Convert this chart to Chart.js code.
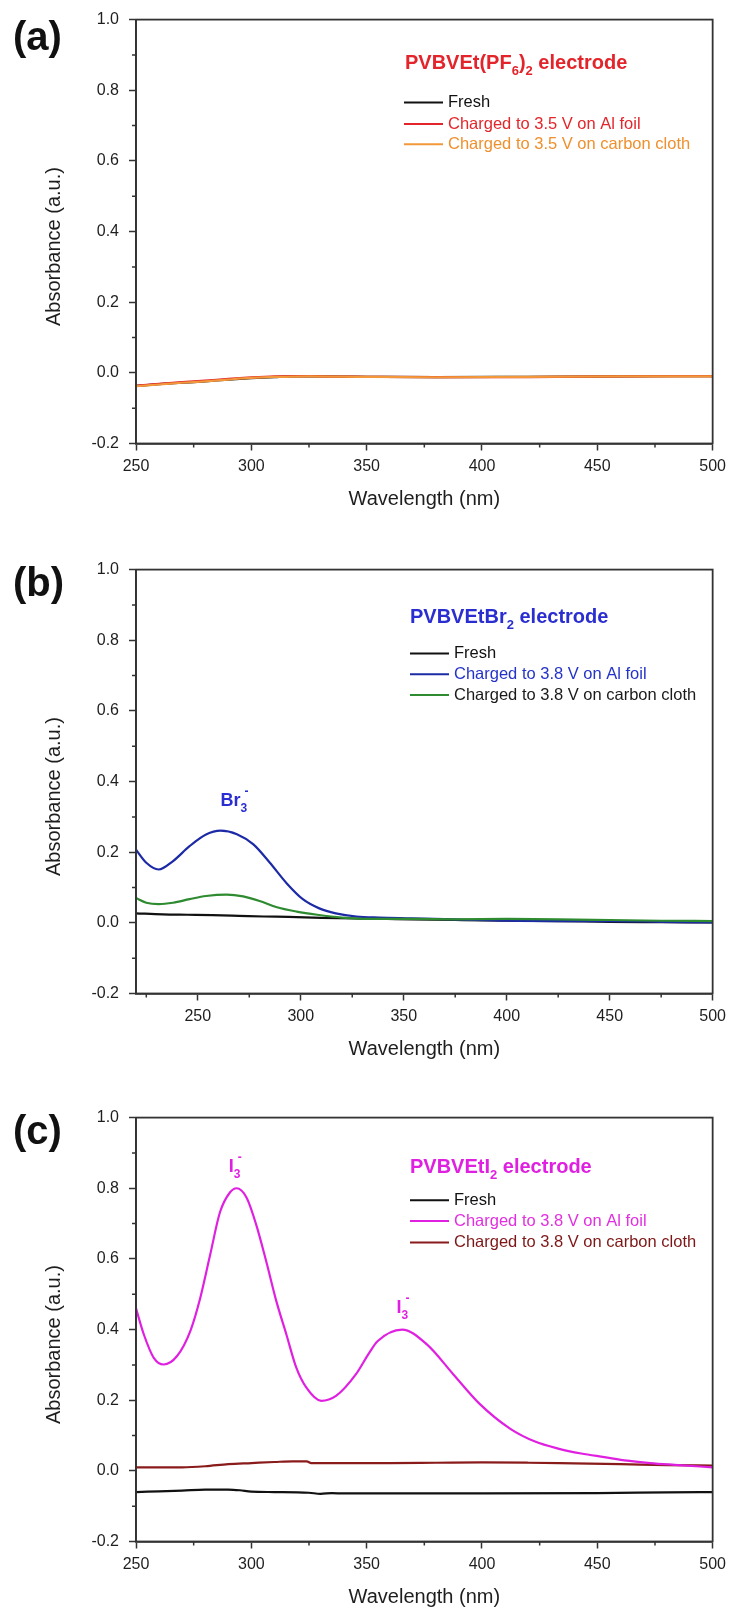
<!DOCTYPE html>
<html>
<head>
<meta charset="utf-8">
<script src="https://cdn.jsdelivr.net/npm/chart.js@4.4.1/dist/chart.umd.min.js"></script>
<style>
  html, body { margin: 0; padding: 0; background: #fff; }
  #wrap { position: relative; width: 732px; height: 1611px; background: #fff; }
  canvas { position: absolute; left: 0; }
</style>
</head>
<body>
<div id="wrap">
  <canvas id="panelA" width="732" height="513" style="top:0px"></canvas>
  <canvas id="panelB" width="732" height="513" style="top:550px"></canvas>
  <canvas id="panelC" width="732" height="513" style="top:1098px"></canvas>
</div>
<script>
// ---- axis ticks ----
const xTicks = [250, 300, 350, 400, 450, 500];
const xMinorAC = [275, 325, 375, 425, 475];
const xMinorB = [225, 275, 325, 375, 425, 475];
const yTicks = [-0.2, 0.0, 0.2, 0.4, 0.6, 0.8, 1.0];
const yMinor = [-0.1, 0.1, 0.3, 0.5, 0.7, 0.9];

// ---- series names ----
const namesA = ['Fresh', 'Charged to 3.5 V on Al foil', 'Charged to 3.5 V on carbon cloth'];
const namesBC = ['Fresh', 'Charged to 3.8 V on Al foil', 'Charged to 3.8 V on carbon cloth'];

// ---- (a) PVBVEt(PF6)2 electrode ----
const aFreshX = [250, 260, 270, 280, 290, 300, 310, 320, 330, 350, 380, 420, 460, 500];
const aFreshY = [-0.037, -0.032, -0.028, -0.024, -0.019, -0.015, -0.012, -0.010, -0.010, -0.011, -0.012, -0.011, -0.010, -0.009];
const aAlX = [250, 260, 270, 280, 290, 300, 310, 320, 325, 330, 350, 380, 420, 460, 500];
const aAlY = [-0.037, -0.031, -0.026, -0.022, -0.017, -0.013, -0.010, -0.009, -0.009, -0.010, -0.011, -0.012, -0.012, -0.010, -0.009];
const aClothX = [250, 260, 270, 280, 290, 300, 310, 325, 350, 380, 420, 460, 500];
const aClothY = [-0.038, -0.033, -0.028, -0.024, -0.019, -0.0145, -0.0116, -0.0097, -0.0116, -0.0125, -0.0116, -0.0097, -0.0097];

// ---- (b) PVBVEtBr2 electrode ----
const bFreshX = [220, 233, 245, 257, 270, 282, 294, 306, 318, 330, 342, 354, 375, 400, 425, 450, 475, 500];
const bFreshY = [0.027, 0.024, 0.023, 0.022, 0.020, 0.018, 0.017, 0.015, 0.013, 0.012, 0.011, 0.010, 0.008, 0.006, 0.005, 0.003, 0.002, 0.001];
const bAlX = [220, 225, 231, 238, 246, 254, 261, 269, 277, 285, 293, 301, 309, 317, 327, 338, 354, 375, 400, 425, 450, 475, 500];
const bAlY = [0.207, 0.170, 0.151, 0.175, 0.217, 0.250, 0.261, 0.251, 0.222, 0.170, 0.113, 0.067, 0.041, 0.027, 0.018, 0.015, 0.013, 0.010, 0.006, 0.005, 0.005, 0.003, 0.001];
const bClothX = [220, 225, 231, 238, 246, 254, 264, 272, 280, 288, 298, 308, 320, 333, 354, 375, 400, 425, 450, 475, 500];
const bClothY = [0.070, 0.057, 0.053, 0.057, 0.067, 0.076, 0.080, 0.075, 0.062, 0.045, 0.032, 0.023, 0.015, 0.011, 0.011, 0.010, 0.011, 0.010, 0.008, 0.006, 0.005];

// ---- (c) PVBVEtI2 electrode ----
const cFreshX = [250, 260, 270, 280, 290, 295, 300, 310, 325, 330, 335, 340, 350, 400, 450, 480, 500];
const cFreshY = [-0.060, -0.058, -0.056, -0.053, -0.053, -0.055, -0.059, -0.060, -0.062, -0.065, -0.063, -0.064, -0.064, -0.064, -0.063, -0.061, -0.060];
const cAlX = [250, 253.4, 257.7, 262, 267.8, 273.5, 277.8, 282.1, 286.4, 290.7, 293.6, 297.9, 302.2, 306.5, 310.9, 315.2, 319.5, 323.8, 330.3, 336.7, 345.3, 351.1, 354.7, 365.4, 376.1, 387.6, 399.1, 412.3, 423, 433, 443, 453, 463, 473, 483.5, 500];
const cAlY = [0.460, 0.386, 0.320, 0.301, 0.325, 0.395, 0.488, 0.610, 0.732, 0.788, 0.800, 0.774, 0.695, 0.592, 0.479, 0.386, 0.292, 0.236, 0.198, 0.212, 0.273, 0.334, 0.367, 0.400, 0.358, 0.273, 0.189, 0.119, 0.083, 0.063, 0.049, 0.039, 0.029, 0.022, 0.017, 0.010];
const cClothX = [250, 260, 270, 280, 290, 300, 310, 318, 324, 326, 340, 360, 380, 400, 420, 440, 460, 480, 500];
const cClothY = [0.010, 0.010, 0.010, 0.013, 0.019, 0.022, 0.025, 0.027, 0.027, 0.022, 0.022, 0.022, 0.023, 0.024, 0.023, 0.021, 0.019, 0.016, 0.015];

const FONT = "'Liberation Sans', Arial, Helvetica, sans-serif";
const INK = '#1e1e1e';
const AXIS = '#333333';
Chart.defaults.font.family = FONT;

const pts = (xs, ys) => xs.map((x, i) => ({ x: x, y: ys[i] }));

function series(label, xs, ys, color, order) {
  return {
    label: label,
    data: pts(xs, ys),
    borderColor: color,
    backgroundColor: color,
    borderWidth: 2.2,
    pointRadius: 0,
    fill: false,
    cubicInterpolationMode: 'monotone',
    order: order
  };
}

// Draws a run of [text, kind] pieces; kind '' = normal, 'sub' = subscript, 'sup' = superscript over the last subscript
function richText(ctx, x, y, parts, size, color) {
  ctx.save();
  ctx.fillStyle = color;
  ctx.textAlign = 'left';
  ctx.textBaseline = 'alphabetic';
  let cx = x, subX = x, subW = 0;
  for (const [t, kind] of parts) {
    if (kind === 'sub') {
      ctx.font = `bold ${Math.round(size * 0.66)}px ${FONT}`;
      ctx.fillText(t, cx, y + size * 0.33);
      subX = cx; subW = ctx.measureText(t).width;
      cx += subW;
    } else if (kind === 'sup') {
      ctx.font = `bold ${Math.round(size * 0.66)}px ${FONT}`;
      ctx.fillText(t, subX + subW * 0.6, y - size * 0.62);
    } else {
      ctx.font = `bold ${size}px ${FONT}`;
      ctx.fillText(t, cx, y);
      cx += ctx.measureText(t).width;
    }
  }
  ctx.restore();
}

const panelDecor = {
  id: 'panelDecor',
  afterDraw(chart, args, o) {
    const { ctx, chartArea: ca, scales } = chart;
    const xs = scales.x, ys = scales.y;
    ctx.save();

    // frame
    ctx.strokeStyle = AXIS;
    ctx.lineWidth = 1.8;
    ctx.strokeRect(ca.left, ca.top, ca.right - ca.left, ca.bottom - ca.top);

    // minor ticks
    ctx.lineWidth = 1.5;
    ctx.beginPath();
    for (const v of o.xMinor) {
      const px = xs.getPixelForValue(v);
      ctx.moveTo(px, ca.bottom);
      ctx.lineTo(px, ca.bottom + 4);
    }
    for (const v of yMinor) {
      const py = ys.getPixelForValue(v);
      ctx.moveTo(ca.left, py);
      ctx.lineTo(ca.left - 4, py);
    }
    ctx.stroke();

    // panel letter
    ctx.fillStyle = '#111';
    ctx.font = `bold 40px ${FONT}`;
    ctx.textAlign = 'left';
    ctx.textBaseline = 'alphabetic';
    ctx.fillText(o.letter, 13, ca.top + o.letterDy);

    // electrode title
    richText(ctx, o.titleX, ca.top + o.titleDy, o.title, 20, o.titleColor);

    // legend
    const ds = chart.data.datasets;
    o.legendRows.forEach((dy, i) => {
      const yy = ca.top + dy;
      ctx.strokeStyle = ds[i].borderColor;
      ctx.lineWidth = 2;
      ctx.beginPath();
      ctx.moveTo(o.legendX, yy);
      ctx.lineTo(o.legendX + 39, yy);
      ctx.stroke();
      ctx.fillStyle = o.legendText[i];
      ctx.font = `16.5px ${FONT}`;
      ctx.textBaseline = 'middle';
      ctx.fillText(ds[i].label, o.legendX + 44, yy);
    });

    // species labels
    for (const lab of o.labels) {
      richText(ctx, xs.getPixelForValue(lab.x), ys.getPixelForValue(lab.y), lab.parts, 18, lab.color);
    }

    // axis titles
    ctx.fillStyle = INK;
    ctx.font = `20px ${FONT}`;
    ctx.textAlign = 'center';
    ctx.textBaseline = 'middle';
    ctx.fillText('Wavelength (nm)', (ca.left + ca.right) / 2, ca.bottom + 56);
    ctx.translate(54, (ca.top + ca.bottom) / 2 + 15);
    ctx.rotate(-Math.PI / 2);
    ctx.fillText('Absorbance (a.u.)', 0, 0);
    ctx.restore();
  }
};

function makePanel(id, xMin, datasets, decor) {
  new Chart(document.getElementById(id), {
    type: 'line',
    data: { datasets: datasets },
    plugins: [panelDecor],
    options: {
      responsive: false,
      animation: false,
      events: [],
      layout: { padding: { top: 16.5, right: 16.5, bottom: 9.5, left: 0 } },
      plugins: { legend: { display: false }, tooltip: { enabled: false }, panelDecor: decor },
      scales: {
        x: {
          type: 'linear',
          min: xMin,
          max: 500,
          afterBuildTicks: s => { s.ticks = xTicks.map(v => ({ value: v })); },
          afterFit: s => { s.height = 60; },
          grid: { drawOnChartArea: false, drawTicks: true, tickLength: 7, tickColor: AXIS, tickWidth: 1.5 },
          border: { display: true, color: AXIS, width: 1.8 },
          ticks: { font: { size: 16 }, color: INK, padding: 6, maxRotation: 0, autoSkip: false, callback: v => String(v) }
        },
        y: {
          type: 'linear',
          min: -0.2,
          max: 1.0,
          afterBuildTicks: s => { s.ticks = yTicks.map(v => ({ value: v })); },
          afterFit: s => { s.width = 136; },
          grid: { drawOnChartArea: false, drawTicks: true, tickLength: 7, tickColor: AXIS, tickWidth: 1.5 },
          border: { display: true, color: AXIS, width: 1.8 },
          ticks: { font: { size: 16 }, color: INK, padding: 10, autoSkip: false, callback: v => v.toFixed(1) }
        }
      }
    }
  });
}

// (a)
makePanel('panelA', 250, [
  series(namesA[0], aFreshX, aFreshY, '#111111', 2),
  series(namesA[1], aAlX, aAlY, '#e3242b', 1),
  series(namesA[2], aClothX, aClothY, '#f2983a', 0)
], {
  letter: '(a)', letterDy: 30,
  title: [['PVBVEt(PF', ''], ['6', 'sub'], [')', ''], ['2', 'sub'], [' electrode', '']],
  titleX: 405, titleDy: 49, titleColor: '#e3242b',
  legendX: 404, legendRows: [83, 104.4, 124.7],
  legendText: ['#111111', '#e3262b', '#ef902e'],
  xMinor: xMinorAC,
  labels: []
});

// (b)
makePanel('panelB', 220, [
  series(namesBC[0], bFreshX, bFreshY, '#111111', 2),
  series(namesBC[1], bAlX, bAlY, '#1d2aa6', 1),
  series(namesBC[2], bClothX, bClothY, '#2e8b30', 0)
], {
  letter: '(b)', letterDy: 26,
  title: [['PVBVEtBr', ''], ['2', 'sub'], [' electrode', '']],
  titleX: 410, titleDy: 53, titleColor: '#2a2ed0',
  legendX: 410, legendRows: [84, 104.7, 125.5],
  legendText: ['#111111', '#2433c9', '#1a1a1a'],
  xMinor: xMinorB,
  labels: [{ x: 261, y: 0.33, color: '#2a2ed0', parts: [['Br', ''], ['3', 'sub'], ['-', 'sup']] }]
});

// (c)
makePanel('panelC', 250, [
  series(namesBC[0], cFreshX, cFreshY, '#111111', 2),
  series(namesBC[1], cAlX, cAlY, '#e020e0', 0),
  series(namesBC[2], cClothX, cClothY, '#8a1b1b', 1)
], {
  letter: '(c)', letterDy: 26,
  title: [['PVBVEtI', ''], ['2', 'sub'], [' electrode', '']],
  titleX: 410, titleDy: 55, titleColor: '#e020e0',
  legendX: 410, legendRows: [82.7, 103.4, 124.8],
  legendText: ['#111111', '#e22fe0', '#7d1717'],
  xMinor: xMinorAC,
  labels: [
    { x: 290.2, y: 0.845, color: '#e020e0', parts: [['I', ''], ['3', 'sub'], ['-', 'sup']] },
    { x: 362.9, y: 0.446, color: '#e020e0', parts: [['I', ''], ['3', 'sub'], ['-', 'sup']] }
  ]
});
</script>
</body>
</html>
